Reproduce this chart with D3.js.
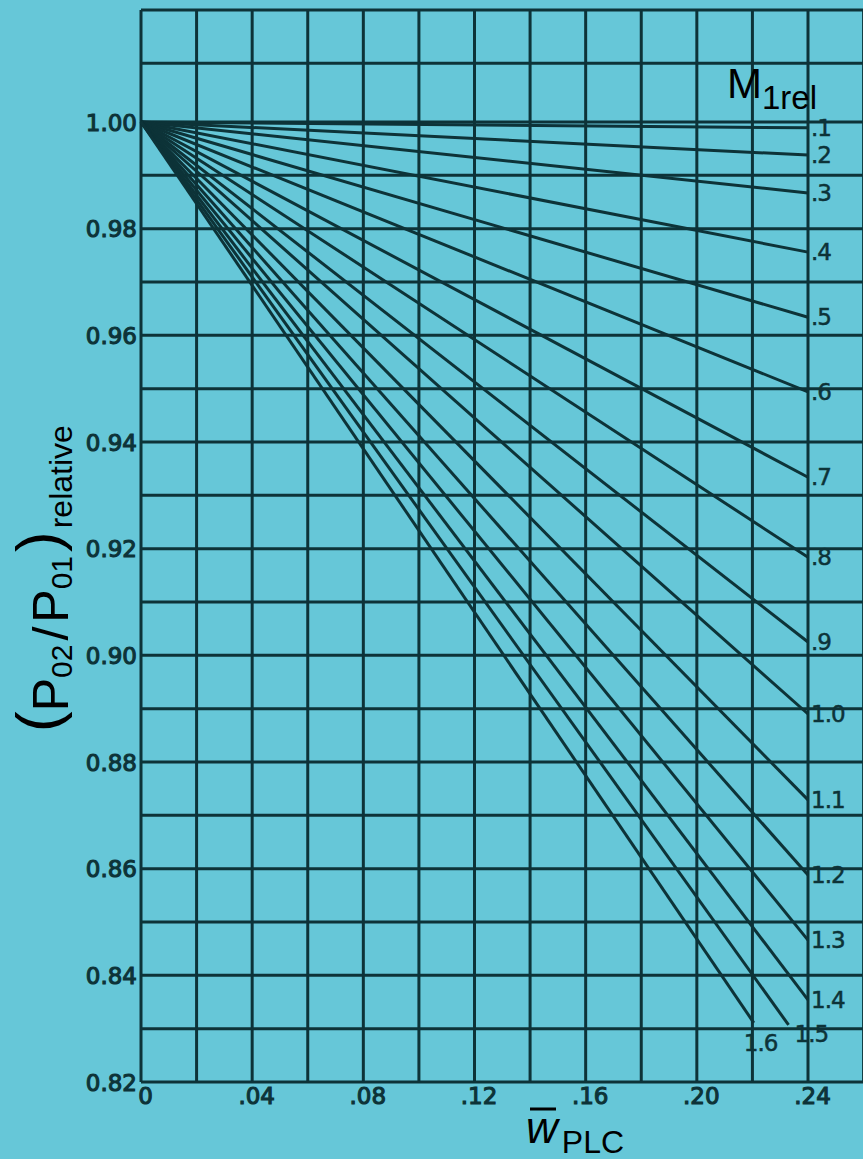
<!DOCTYPE html>
<html>
<head>
<meta charset="utf-8" />
<title>Relative total pressure ratio chart</title>
<script src="https://d3js.org/d3.v7.min.js" charset="utf-8"></script>
<style>
  body { margin: 0; background: #66c7d8; }
  svg { display: block; }
  .tick text { font-family: "DejaVu Sans", sans-serif; fill: #0d3338; stroke: #0d3338; stroke-width: 1.1px; }
  .curveLabel { font-family: "DejaVu Sans", sans-serif; font-size: 23px; fill: #0d3338; stroke: #0d3338; stroke-width: 0.5px; letter-spacing: -1px; }
  .title { font-family: "Liberation Sans", Arial, sans-serif; fill: #000; }
</style>
</head>
<body>
<svg id="chart" width="863" height="1159"></svg>
<script>
// M1rel curves: every line starts at (0, 1.00) and ends at (xEnd, yEnd)
var machLabels = [".1", ".2", ".3", ".4", ".5", ".6", ".7", ".8", ".9", "1.0", "1.1", "1.2", "1.3", "1.4", "1.5", "1.6"];
var xEnd = [0.24, 0.24, 0.24, 0.24, 0.24, 0.24, 0.24, 0.24, 0.24, 0.24, 0.24, 0.24, 0.24, 0.24, 0.233, 0.2205];
var yEnd = [0.9989, 0.9938, 0.9867, 0.9756, 0.9634, 0.9494, 0.9334, 0.9184, 0.9025, 0.889, 0.8729, 0.8588, 0.8466, 0.8354, 0.8307, 0.8311];
var xStart = 0, yStart = 1.00;

var xTicks = [0, 0.04, 0.08, 0.12, 0.16, 0.20, 0.24];
var xTickLabels = ["0", ".04", ".08", ".12", ".16", ".20", ".24"];
var yTicks = [1.00, 0.98, 0.96, 0.94, 0.92, 0.90, 0.88, 0.86, 0.84, 0.82];
var yTickLabels = ["1.00", "0.98", "0.96", "0.94", "0.92", "0.90", "0.88", "0.86", "0.84", "0.82"];
var xGrid = [0, 0.02, 0.04, 0.06, 0.08, 0.10, 0.12, 0.14, 0.16, 0.18, 0.20, 0.22, 0.24, 0.26];
var yGrid = [0.82, 0.83, 0.84, 0.85, 0.86, 0.87, 0.88, 0.89, 0.90, 0.91, 0.92, 0.93, 0.94, 0.95, 0.96, 0.97, 0.98, 0.99, 1.00, 1.011, 1.021];

var ink = "#0d3338";
var svg = d3.select("#chart");

svg.append("rect").attr("width", 863).attr("height", 1159).attr("fill", "#66c7d8");

var x = d3.scaleLinear().domain([0, 0.24]).range([141, 808]);
var y = d3.scaleLinear().domain([0.82, 1.00]).range([1082, 122]);

// grid
var grid = svg.append("g").attr("stroke", ink).attr("stroke-width", 3);
grid.selectAll(".vline").data(xGrid).enter().append("line")
    .attr("x1", function (d) { return x(d); })
    .attr("x2", function (d) { return x(d); })
    .attr("y1", y(1.021))
    .attr("y2", y(0.82));
grid.selectAll(".hline").data(yGrid).enter().append("line")
    .attr("x1", x(0))
    .attr("x2", x(0.26))
    .attr("y1", function (d) { return y(d); })
    .attr("y2", function (d) { return y(d); });

// axes (labels only)
var yAxis = d3.axisLeft(y).tickValues(yTicks).tickSize(0).tickPadding(4)
    .tickFormat(function (d, i) { return yTickLabels[i]; });
var gy = svg.append("g").attr("transform", "translate(" + x(0) + ",0)").call(yAxis);
gy.select(".domain").remove();
gy.selectAll("text").attr("font-size", 23).attr("dy", "0.36em").attr("fill", ink);

var xAxis = d3.axisBottom(x).tickValues(xTicks).tickSize(0).tickPadding(6)
    .tickFormat(function (d, i) { return xTickLabels[i]; });
var gx = svg.append("g").attr("transform", "translate(0," + y(0.82) + ")").call(xAxis);
gx.select(".domain").remove();
gx.selectAll("text").attr("font-size", 23).attr("dx", 4).attr("fill", ink);

// curves
var curves = machLabels.map(function (m, i) {
    return { label: m, pts: [[xStart, yStart], [xEnd[i], yEnd[i]]] };
});
var line = d3.line().x(function (d) { return x(d[0]); }).y(function (d) { return y(d[1]); });

svg.append("g").selectAll("path").data(curves).enter().append("path")
    .attr("d", function (d) { return line(d.pts); })
    .attr("fill", "none")
    .attr("stroke", ink)
    .attr("stroke-width", 3);

svg.append("g").selectAll("text").data(curves).enter().append("text")
    .attr("class", "curveLabel")
    .attr("x", function (d) {
        var px = x(d.pts[1][0]);
        if (d.label === "1.6") return px - 10;
        if (d.label === "1.5") return px + 6;
        return px + 3;
    })
    .attr("y", function (d) {
        var py = y(d.pts[1][1]);
        if (d.label === "1.6") return py + 20;
        if (d.label === "1.5") return py + 9;
        return py;
    })
    .attr("dy", "0.36em")
    .text(function (d) { return d.label; });

// legend title M1rel
var mt = svg.append("text").attr("class", "title").attr("x", 727).attr("y", 98);
mt.append("tspan").attr("font-size", 42).text("M");
mt.append("tspan").attr("font-size", 33).attr("dy", 11).text("1rel");

// x title: w-bar PLC
var xt = svg.append("text").attr("class", "title").attr("x", 526).attr("y", 1143);
xt.append("tspan").attr("font-size", 44).attr("font-style", "italic").text("w");
xt.append("tspan").attr("font-size", 32).attr("dx", 4).attr("dy", 10).text("PLC");
svg.append("line")
    .attr("x1", 530).attr("x2", 556)
    .attr("y1", 1109).attr("y2", 1109)
    .attr("stroke", "#000").attr("stroke-width", 3);

// y title: (P02 / P01)relative
var yt = svg.append("text").attr("class", "title")
    .attr("transform", "translate(68,732) rotate(-90)");
yt.append("tspan").attr("font-size", 62).attr("dy", -9).text("(");
yt.append("tspan").attr("font-size", 50).attr("dy", 9).text("P");
yt.append("tspan").attr("font-size", 30).attr("dy", 4).text("02");
yt.append("tspan").attr("font-size", 50).attr("dy", -4).attr("dx", 4).text("/");
yt.append("tspan").attr("font-size", 50).attr("dx", 4).text("P");
yt.append("tspan").attr("font-size", 30).attr("dy", 4).text("01");
yt.append("tspan").attr("font-size", 62).attr("dy", -13).attr("dx", 4).text(")");
yt.append("tspan").attr("font-size", 32).attr("dy", 13).attr("dx", 3).text("relative");
</script>
</body>
</html>
